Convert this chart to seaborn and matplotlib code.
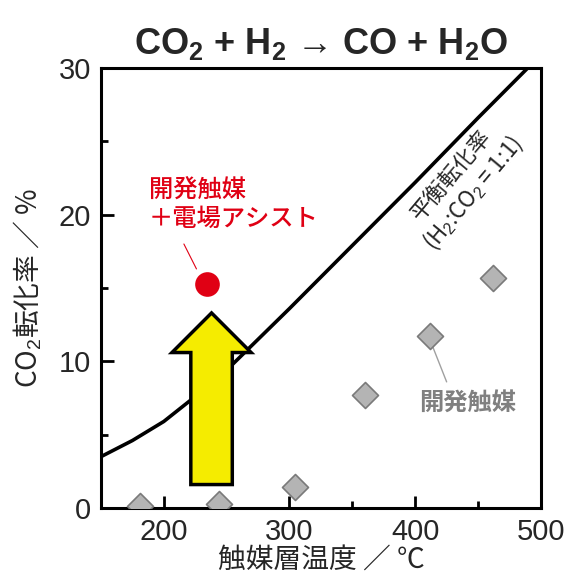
import matplotlib

matplotlib.use("Agg")
import matplotlib.pyplot as plt
import seaborn as sns
from matplotlib.patches import FancyArrow
from matplotlib.ticker import MultipleLocator
from pandas import DataFrame

# equilibrium conversion curve (H2:CO2 = 1:1)
eq_temp = [150, 175, 200, 225, 250, 275, 300, 350, 400, 450, 500]
eq_conv = [3.5, 4.6, 5.9, 7.6, 9.4, 11.5, 13.6, 17.9, 22.2, 26.6, 30.9]

# catalyst only
cat_temp = [181, 244, 304, 360, 412, 462]
cat_conv = [0.15, 0.3, 1.4, 7.7, 11.7, 15.7]

# catalyst + electric field
ef_temp = [234]
ef_conv = [15.3]

# yellow arrow (x, y start, length)
arrow_x = 238
arrow_y0 = 1.6
arrow_len = 11.7


def plot() -> None:
    sns.set_style("ticks")
    plt.rcParams["font.family"] = ["Noto Sans CJK JP", "DejaVu Sans"]
    plt.rcParams["mathtext.fontset"] = "custom"
    plt.rcParams["mathtext.rm"] = "Liberation Sans"
    plt.rcParams["mathtext.bf"] = "Liberation Sans:bold"
    plt.rcParams["mathtext.it"] = "Liberation Sans:italic"

    fig = plt.figure(figsize=(5.67, 5.83), dpi=100)
    ax = fig.add_axes([0.178, 0.1286, 0.776, 0.7548])

    eq_df = DataFrame({"temp": eq_temp, "conv": eq_conv})
    cat_df = DataFrame({"temp": cat_temp, "conv": cat_conv})
    ef_df = DataFrame({"temp": ef_temp, "conv": ef_conv})

    sns.lineplot(data=eq_df, x="temp", y="conv", color="black", lw=2.6, ax=ax, zorder=2)
    sns.scatterplot(data=cat_df, x="temp", y="conv", marker="D", s=175,
                    color="#b4b4b4", edgecolor="#7a7a7a", linewidth=1.2, ax=ax, zorder=4)
    sns.scatterplot(data=ef_df, x="temp", y="conv", marker="o", s=270,
                    color="#e00014", edgecolor="#e00014", ax=ax, zorder=4)

    ax.add_patch(FancyArrow(arrow_x, arrow_y0, 0, arrow_len, width=33, head_width=63,
                            head_length=2.7, length_includes_head=True,
                            facecolor="#f5ec00", edgecolor="black", lw=2.5, zorder=3))

    ax.set_xlim(150, 500)
    ax.set_ylim(0, 30)
    ax.xaxis.set_major_locator(MultipleLocator(100))
    ax.xaxis.set_minor_locator(MultipleLocator(50))
    ax.yaxis.set_major_locator(MultipleLocator(10))
    ax.yaxis.set_minor_locator(MultipleLocator(5))
    ax.tick_params(which="both", direction="in", width=2, color="black",
                   top=False, right=False)
    ax.tick_params(which="major", length=9, pad=7, labelsize=21)
    ax.tick_params(which="minor", length=5)
    for lab in ax.get_xticklabels() + ax.get_yticklabels():
        lab.set_fontfamily("Liberation Sans")
    for sp in ax.spines.values():
        sp.set_visible(True)
        sp.set_linewidth(2.2)
        sp.set_color("black")

    ax.set_xlabel("触媒層温度 ／ ℃", fontsize=20, labelpad=0)
    ax.set_ylabel(r"CO$_{\mathrm{2}}$転化率 ／ %", fontsize=20, labelpad=10)
    ax.set_title(r"CO$\mathbf{_2}$ + H$\mathbf{_2}$ → CO + H$\mathbf{_2}$O",
                 fontsize=26, fontweight="bold", pad=10,
                 family=["Liberation Sans", "DejaVu Sans"])

    # annotations
    ax.text(188, 20.7, "開発触媒\n＋電場アシスト", color="#e00014", fontsize=17.5,
            weight="medium", ha="left", va="center", linespacing=1.1)
    ax.plot([216, 226], [18.0, 16.3], color="#e00014", lw=0.8)
    ax.text(403, 7.2, "開発触媒", color="#808080", fontsize=17.5, weight="bold",
            ha="left", va="center")
    ax.plot([413, 425], [11.2, 8.6], color="#a0a0a0", lw=1.0)
    ax.text(438, 22.0, "平衡転化率\n(H$_{\\mathrm{2}}$:CO$_{\\mathrm{2}}$ = 1:1)",
            fontsize=16, rotation=50, ha="center", va="center",
            rotation_mode="anchor", linespacing=1.15)

    fig.savefig("out.png", dpi=100)
    plt.close(fig)


def main() -> None:
    plot()


if __name__ == "__main__":
    main()
